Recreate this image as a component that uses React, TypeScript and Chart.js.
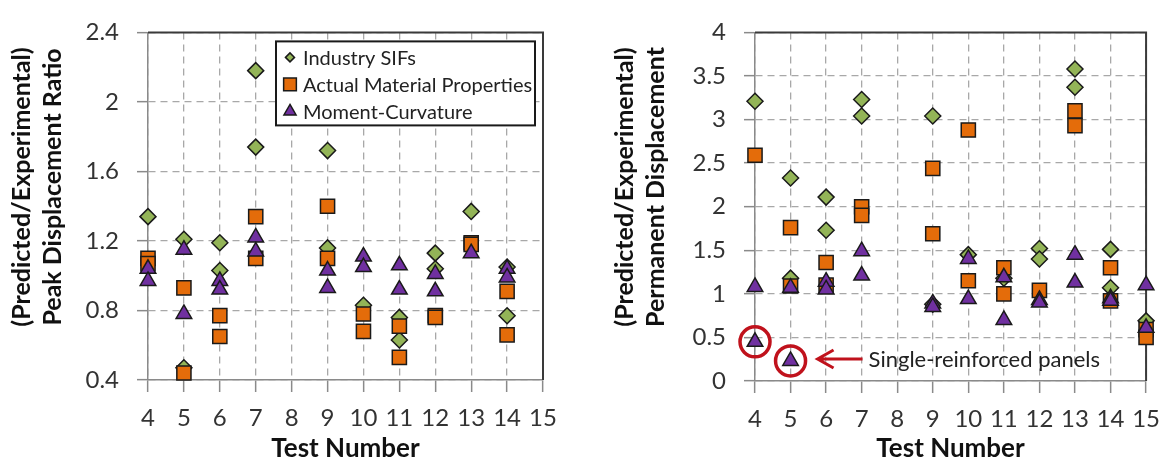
import React, { useEffect, useRef } from 'react';
import { Chart, registerables } from 'chart.js';
import { drawPoint } from 'chart.js/helpers';

Chart.register(...registerables);

const FONT = 'Lato, "Open Sans", "DejaVu Sans", sans-serif';

// ---- Data: [test number, ratio] ----
// Left panel: Peak displacement ratio
const peakIndustrySIFs: [number, number][] = [
  [4, 1.34], [5, 1.21], [5, 0.47], [6, 1.19], [6, 1.03], [7, 2.18], [7, 1.74],
  [9, 1.72], [9, 1.16], [10, 0.83], [11, 0.76], [11, 0.63], [12, 1.13], [12, 1.04],
  [13, 1.37], [14, 1.05], [14, 0.77],
];
const peakActualMaterial: [number, number][] = [
  [4, 1.10], [4, 1.07], [5, 0.93], [5, 0.44], [6, 0.77], [6, 0.65], [7, 1.34], [7, 1.10],
  [9, 1.40], [9, 1.10], [10, 0.78], [10, 0.68], [11, 0.71], [11, 0.53], [12, 0.77], [12, 0.76],
  [13, 1.19], [13, 1.18], [14, 0.91], [14, 0.66],
];
const peakMomentCurvature: [number, number][] = [
  [4, 1.04], [4, 0.97], [5, 1.15], [5, 0.78], [6, 0.97], [6, 0.92], [7, 1.22], [7, 1.14],
  [9, 1.03], [9, 0.93], [10, 1.11], [10, 1.05], [11, 1.06], [11, 0.92], [12, 1.01], [12, 0.91],
  [13, 1.13], [14, 1.04], [14, 0.99],
];

// Right panel: Permanent displacement ratio
const permIndustrySIFs: [number, number][] = [
  [4, 3.21], [5, 2.33], [5, 1.18], [6, 2.11], [6, 1.73], [7, 3.23], [7, 3.04], [9, 3.04], [9, 0.88],
  [10, 1.45], [11, 1.18], [12, 1.52], [12, 1.40], [13, 3.58], [13, 3.37], [14, 1.51], [14, 1.07],
  [15, 0.69],
];
const permActualMaterial: [number, number][] = [
  [4, 2.59], [5, 1.76], [5, 1.09], [6, 1.36], [6, 1.10], [7, 2.00], [7, 1.90], [9, 2.44], [9, 1.69],
  [10, 2.88], [10, 1.15], [11, 1.30], [11, 1.00], [12, 1.04], [13, 3.10], [13, 2.93], [14, 1.30],
  [14, 0.92], [15, 0.59], [15, 0.50],
];
const permMomentCurvature: [number, number][] = [
  [4, 1.08], [4, 0.45], [5, 1.07], [5, 0.23], [6, 1.14], [6, 1.05], [7, 1.49], [7, 1.21], [9, 0.89],
  [9, 0.85], [10, 1.40], [10, 0.94], [11, 1.19], [11, 0.70], [12, 0.93], [12, 0.90], [13, 1.45],
  [13, 1.13], [14, 0.95], [14, 0.92], [15, 1.10], [15, 0.61],
];

// Highlighted single-reinforced panels (right panel)
const singleReinforced: [number, number][] = [[4, 0.45], [5, 0.23]];
const annotationText = 'Single-reinforced panels';

const seriesLabels = ['Industry SIFs', 'Actual Material Properties', 'Moment-Curvature'];
const xTitle = 'Test Number';
const leftYTitle = ['(Predicted/Experimental)', 'Peak Displacement Ratio'];
const rightYTitle = ['(Predicted/Experimental)', 'Permanent Displacement'];

const GREEN = '#93b457';
const ORANGE = '#e46c0a';
const PURPLE = '#7030a0';
const EDGE = '#1a1a1a';
const RED = '#c0121c';

const toPts = (arr: [number, number][]) => arr.map(([x, y]) => ({ x, y }));

const framePlugin = {
  id: 'frame',
  beforeDatasetsDraw(chart: any) {
    const { ctx, chartArea } = chart;
    const { left, top, right, bottom } = chartArea;
    ctx.save();
    ctx.strokeStyle = '#3a3a3a';
    ctx.lineWidth = 2;
    ctx.beginPath();
    ctx.moveTo(left, top);
    ctx.lineTo(right, top);
    ctx.lineTo(right, bottom);
    ctx.stroke();
    ctx.restore();
  },
};

// Two-line rotated y-axis title
const yTitlePlugin = {
  id: 'yTitle',
  afterDraw(chart: any, _args: any, opts: any) {
    const { ctx } = chart;
    const lines: string[] = opts.lines || [];
    ctx.save();
    ctx.fillStyle = '#111';
    ctx.font = `bold 25px ${FONT}`;
    ctx.textAlign = 'center';
    ctx.textBaseline = 'middle';
    lines.forEach((line, i) => {
      ctx.save();
      ctx.translate(opts.x + i * opts.gap, opts.cy);
      ctx.rotate(-Math.PI / 2);
      ctx.fillText(line, 0, 0);
      ctx.restore();
    });
    ctx.restore();
  },
};

const legendRadii = [4.5, 9, 7];
const legendPlugin = {
  id: 'boxLegend',
  afterDraw(chart: any) {
    const { ctx, chartArea } = chart;
    const bx = chartArea.left + 128;
    const by = chartArea.top + 9;
    const bw = 259;
    const bh = 84;
    ctx.save();
    ctx.fillStyle = '#ffffff';
    ctx.fillRect(bx, by, bw, bh);
    ctx.strokeStyle = '#1a1a1a';
    ctx.lineWidth = 2;
    ctx.strokeRect(bx, by, bw, bh);
    chart.data.datasets.forEach((ds: any, i: number) => {
      const cy = by + 16 + i * 27;
      ctx.fillStyle = ds.backgroundColor;
      ctx.strokeStyle = ds.borderColor;
      ctx.lineWidth = 1.5;
      drawPoint(ctx, { pointStyle: ds.pointStyle, radius: legendRadii[i], borderWidth: 1.5, rotation: 0 } as any, bx + 14, cy);
      ctx.fillStyle = '#222';
      ctx.font = `20px ${FONT}`;
      ctx.textBaseline = 'middle';
      ctx.textAlign = 'left';
      ctx.fillText(ds.label, bx + 27, cy + 1);
    });
    ctx.restore();
  },
};

const annotationPlugin = {
  id: 'singleReinforced',
  afterDatasetsDraw(chart: any) {
    const { ctx, scales } = chart;
    const xs = scales.x;
    const ys = scales.y;
    ctx.save();
    ctx.strokeStyle = RED;
    ctx.lineWidth = 3.5;
    singleReinforced.forEach(([tx, v]) => {
      ctx.beginPath();
      ctx.arc(xs.getPixelForValue(tx), ys.getPixelForValue(v), 15, 0, Math.PI * 2);
      ctx.stroke();
    });
    const [tx, v] = singleReinforced[1];
    const px = xs.getPixelForValue(tx);
    const py = ys.getPixelForValue(v) - 2;
    ctx.lineWidth = 3;
    ctx.beginPath();
    ctx.moveTo(px + 72, py);
    ctx.lineTo(px + 27, py);
    ctx.moveTo(px + 43, py - 9);
    ctx.lineTo(px + 27, py);
    ctx.lineTo(px + 43, py + 9);
    ctx.stroke();
    ctx.fillStyle = '#222';
    ctx.font = `22px ${FONT}`;
    ctx.textBaseline = 'middle';
    ctx.textAlign = 'left';
    ctx.fillText(annotationText, px + 78, py + 1);
    ctx.restore();
  },
};

type Spec = {
  width: number;
  sif: [number, number][];
  amp: [number, number][];
  mc: [number, number][];
  yMin: number;
  yMax: number;
  yStep: number;
  yTitle: string[];
  yTitleX: number;
  yAxisWidth: number;
  xAxisHeight: number;
  padRight: number;
  extra: any[];
};

const fmt = (v: any) => String(Number(Number(v).toFixed(2)));

function buildConfig(spec: Spec): any {
  const common = { borderColor: EDGE, borderWidth: 1.5, clip: false, showLine: false };
  const tickFont = { family: FONT, size: 24 };
  const gridBase = {
    color: '#a8a8a8',
    lineWidth: 1.3,
    borderDash: [7, 5],
    tickColor: '#8a8a8a',
    tickWidth: 1.5,
    tickLength: 11,
    tickBorderDash: [],
  };
  const borderBase = { display: true, color: '#8a8a8a', width: 1.5, dash: [7, 5] };
  return {
    type: 'scatter',
    data: {
      datasets: [
        { ...common, label: seriesLabels[0], data: toPts(spec.sif), pointStyle: 'rectRot', pointRadius: 8, backgroundColor: GREEN, order: 3 },
        { ...common, label: seriesLabels[1], data: toPts(spec.amp), pointStyle: 'rect', pointRadius: 10, backgroundColor: ORANGE, order: 2 },
        { ...common, label: seriesLabels[2], data: toPts(spec.mc), pointStyle: 'triangle', pointRadius: 9, backgroundColor: PURPLE, order: 1 },
      ],
    },
    options: {
      responsive: false,
      animation: false,
      devicePixelRatio: 1,
      layout: { padding: { top: 15, right: spec.padRight, bottom: 0, left: 0 } },
      plugins: {
        legend: { display: false },
        tooltip: { enabled: false },
        yTitle: { lines: spec.yTitle, x: spec.yTitleX, gap: 31, cy: 187 },
      },
      elements: { point: { hoverRadius: 0 } },
      scales: {
        x: {
          type: 'linear',
          min: 4,
          max: 15,
          afterFit: (s: any) => { s.height = spec.xAxisHeight; },
          ticks: { stepSize: 1, autoSkip: false, maxRotation: 0, font: tickFont, color: '#333', padding: 12, callback: fmt },
          grid: { ...gridBase, tickLength: 12 },
          border: borderBase,
          title: {
            display: true,
            text: xTitle,
            color: '#111',
            font: { family: FONT, size: 26, weight: 'bold', lineHeight: 1.1 },
            padding: { top: 0, bottom: 0 },
          },
        },
        y: {
          type: 'linear',
          min: spec.yMin,
          max: spec.yMax,
          afterFit: (s: any) => { s.width = spec.yAxisWidth; },
          ticks: { stepSize: spec.yStep, font: tickFont, color: '#333', padding: 18, callback: fmt },
          grid: gridBase,
          border: borderBase,
        },
      },
    },
    plugins: [framePlugin, yTitlePlugin, ...spec.extra],
  };
}

function Panel({ spec }: { spec: Spec }) {
  const ref = useRef<HTMLCanvasElement>(null);
  useEffect(() => {
    if (!ref.current) return;
    const chart = new Chart(ref.current, buildConfig(spec));
    return () => chart.destroy();
  }, []);
  return <canvas ref={ref} width={spec.width} height={463} style={{ display: 'block', width: spec.width, height: 463 }} />;
}

const leftSpec: Spec = {
  width: 580,
  sif: peakIndustrySIFs,
  amp: peakActualMaterial,
  mc: peakMomentCurvature,
  yMin: 0.4,
  yMax: 2.4,
  yStep: 0.4,
  yTitle: leftYTitle,
  yTitleX: 22,
  yAxisWidth: 148,
  xAxisHeight: 83,
  padRight: 37,
  extra: [legendPlugin],
};

const rightSpec: Spec = {
  width: 582,
  sif: permIndustrySIFs,
  amp: permActualMaterial,
  mc: permMomentCurvature,
  yMin: 0,
  yMax: 4,
  yStep: 0.5,
  yTitle: rightYTitle,
  yTitleX: 35,
  yAxisWidth: 165,
  xAxisHeight: 82,
  padRight: 24,
  extra: [annotationPlugin],
};

export default function App() {
  return (
    <div style={{ position: 'fixed', left: 0, top: 0, width: 1172, height: 463, background: '#fff' }}>
      <div style={{ position: 'absolute', left: 0, top: 0 }}>
        <Panel spec={leftSpec} />
      </div>
      <div style={{ position: 'absolute', left: 590, top: 0 }}>
        <Panel spec={rightSpec} />
      </div>
    </div>
  );
}
